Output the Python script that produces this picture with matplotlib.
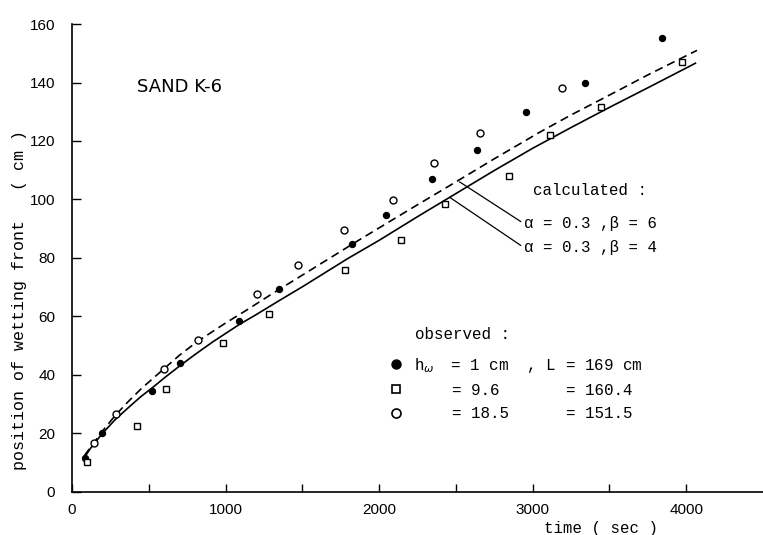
import matplotlib
matplotlib.use("Agg")
import matplotlib.pyplot as plt
from matplotlib.ticker import MultipleLocator, FixedLocator
from matplotlib.lines import Line2D

# observed, h_w = 1 cm (filled circles)
t_h1 = [85, 198, 524, 700, 1089, 1350, 1824, 2046, 2346, 2635, 2957, 3340, 3840]
z_h1 = [11.4, 20.0, 34.3, 44.0, 58.3, 69.4, 84.6, 94.7, 107.1, 117.0, 130.0, 140.0, 155.3]

# observed, h_w = 9.6 (open squares)
t_h96 = [96, 422, 611, 983, 1281, 1779, 2141, 2427, 2846, 3112, 3444, 3970]
z_h96 = [10.0, 22.3, 35.2, 50.9, 60.8, 75.8, 86.0, 98.3, 108.0, 122.0, 131.7, 146.9]

# observed, h_w = 18.5 (open circles)
t_h185 = [143, 289, 596, 822, 1205, 1474, 1774, 2089, 2357, 2655, 3194]
z_h185 = [16.8, 26.6, 42.0, 52.0, 67.5, 77.5, 89.7, 99.7, 112.6, 122.7, 138.2]

# calculated, alpha = 0.3, beta = 4 (solid)
t_b4 = [78, 120, 194, 280, 372, 450, 524, 610, 698, 800, 915, 1089, 1200, 1350, 1500,
        1800, 2000, 2250, 2500, 2750, 3000, 3250, 3500, 3750, 4060]
z_b4 = [11.5, 14.8, 19.7, 24.6, 29.0, 32.6, 35.6, 39.3, 42.9, 46.9, 51.2, 57.2, 60.6, 65.4, 70.1,
        79.9, 86.0, 94.1, 102.0, 109.9, 117.5, 124.6, 131.5, 138.2, 146.6]

# calculated, alpha = 0.3, beta = 6 (dashed)
t_b6 = [80, 143, 210, 285, 360, 450, 589, 700, 817, 1000, 1133, 1300, 1500, 1700, 1872,
        2200, 2500, 2750, 3046, 3250, 3500, 3750, 4070]
z_b6 = [12.3, 16.8, 21.5, 26.3, 30.5, 35.2, 41.6, 46.7, 51.4, 57.7, 62.0, 67.6, 74.1, 80.6, 86.2,
        96.6, 106.0, 113.9, 123.0, 128.9, 135.7, 142.6, 151.0]

mono = "Liberation Mono"
sans = ["Liberation Sans", "DejaVu Sans"]

fig = plt.figure(figsize=(7.63, 5.35), dpi=100)
ax = fig.add_axes([0.0944, 0.081, 0.9056, 0.874])

ax.plot(t_b4, z_b4, color="black", lw=1.2, ls="-")
ax.plot(t_b6, z_b6, color="black", lw=1.2, ls=(0, (5, 3)))

ax.plot(t_h1, z_h1, "o", color="black", ms=4.3, ls="none")
ax.plot(t_h96, z_h96, "s", mfc="white", mec="black", mew=1.0, ms=4.2, ls="none")
ax.plot(t_h185, z_h185, "o", mfc="white", mec="black", mew=1.0, ms=5.0, ls="none")

ax.set_xlim(0, 4500)
ax.set_ylim(0, 160)
ax.spines["top"].set_visible(False)
ax.spines["right"].set_visible(False)
ax.spines["left"].set_linewidth(1.2)
ax.spines["bottom"].set_linewidth(1.2)

ax.xaxis.set_major_locator(FixedLocator([0, 1000, 2000, 3000, 4000]))
ax.xaxis.set_minor_locator(FixedLocator([500, 1500, 2500, 3500]))
ax.yaxis.set_major_locator(MultipleLocator(20))
ax.tick_params(axis="x", which="both", direction="in", length=6, width=1.0, pad=8)
ax.tick_params(axis="y", which="both", direction="in", length=6.5, width=1.0, pad=12)
for lab in ax.get_xticklabels() + ax.get_yticklabels():
    lab.set_fontfamily(sans)
    lab.set_fontsize(11)

ax.text(424, 138.4, "SAND K-6", fontsize=13, family="DejaVu Sans", va="center", ha="left")

ax.text(3000, 103.2, "calculated :", fontsize=11.3, family=mono, va="center", ha="left")
arrow = dict(arrowstyle="-", color="black", lw=0.9, shrinkA=0, shrinkB=0, relpos=(0, 0.5))
ax.annotate("α = 0.3 ,β = 6", xy=(2524, 106.0), xytext=(2941, 91.8), fontsize=11.3,
            family=mono, va="center", ha="left", arrowprops=arrow)
ax.annotate("α = 0.3 ,β = 4", xy=(2463, 100.6), xytext=(2941, 83.6), fontsize=11.3,
            family=mono, va="center", ha="left", arrowprops=arrow)

ax.text(2231, 53.7, "observed :", fontsize=11.4, family=mono, va="center", ha="left")
handles = [
    Line2D([], [], marker="o", color="black", ls="none", ms=6.5),
    Line2D([], [], marker="s", mfc="white", mec="black", mew=1.2, ls="none", ms=5.5),
    Line2D([], [], marker="o", mfc="white", mec="black", mew=1.2, ls="none", ms=6.5),
]
labels = [
    r"h$_\omega\enspace$ = 1 cm  , L = 169 cm",
    "    = 9.6       = 160.4",
    "    = 18.5      = 151.5",
]
leg = ax.legend(handles, labels, loc="upper left", bbox_to_anchor=(0.4596, 0.291),
                frameon=False, prop={"family": mono, "size": 11.4}, handlelength=0.8,
                handletextpad=0.75, labelspacing=0.52, borderpad=0, borderaxespad=0)

ax.set_xlabel("time ( sec )", fontsize=11.3, family=mono)
ax.xaxis.set_label_coords(0.766, -0.063)
fig.text(0.026, 0.439, "position of wetting front   ( cm )", rotation=90,
         fontsize=12, family=mono, va="center", ha="center")

fig.savefig("out.png", dpi=100)
